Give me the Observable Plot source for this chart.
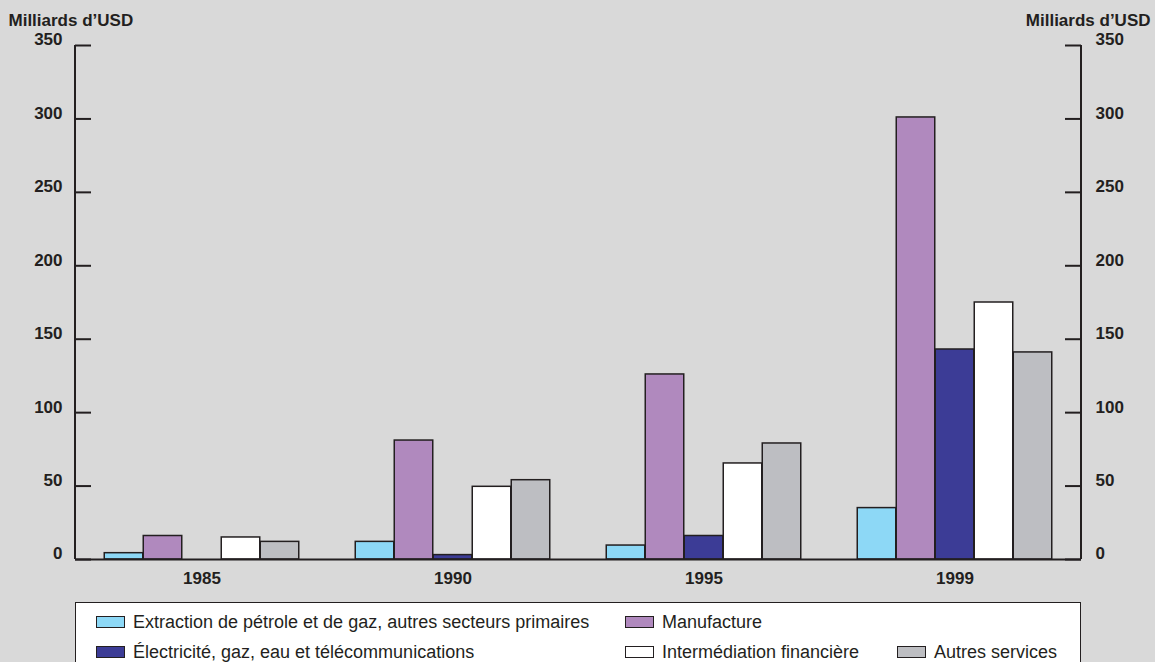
<!DOCTYPE html>
<html>
<head>
<meta charset="utf-8">
<script src="https://cdn.jsdelivr.net/npm/d3@7"></script>
<script src="https://cdn.jsdelivr.net/npm/@observablehq/plot@0.6"></script>
<style>
  html, body { margin: 0; padding: 0; background: #d9d9d9; }
  #wrap { position: relative; width: 1155px; height: 662px; overflow: hidden; font-family: "Liberation Sans", Arial, sans-serif; color: #231f20; }
  #chart { position: absolute; left: 0; top: 0; }
  #legend { position: absolute; left: 75px; top: 602px; width: 1004px; height: 90px; background: #fff; border: 1.5px solid #231f20; box-sizing: content-box; }
  .item { position: absolute; display: flex; align-items: center; font-size: 18px; white-space: nowrap; height: 18px; }
  .sw { width: 27px; height: 10px; border: 1px solid #231f20; margin-right: 8px; }
</style>
</head>
<body>
<div id="wrap">
  <div id="chart"></div>
  <div id="legend"></div>
</div>
<script>
// ---- data ----
const years = ["1985", "1990", "1995", "1999"];
const series = [
  "Extraction de pétrole et de gaz, autres secteurs primaires",
  "Manufacture",
  "Électricité, gaz, eau et télécommunications",
  "Intermédiation financière",
  "Autres services"
];
const extraction   = [4.3, 12, 9.5, 35];
const manufacture  = [16, 81, 126, 301];
const electricite  = [0, 3, 16, 143];
const intermediation = [15, 49.5, 65.4, 175];
const autres       = [12, 54, 79, 141];
const seriesValues = [extraction, manufacture, electricite, intermediation, autres];
const colors = ["#8dd8f6", "#b089be", "#3c3c96", "#ffffff", "#bdbec2"];
const yTicks = [0, 50, 100, 150, 200, 250, 300, 350];
const unitLabel = "Milliards d’USD";

// legend layout (left offsets within legend box, row)
const legendPos = [[20, 0], [549, 0], [20, 1], [549, 1], [821, 1]];

// ---- chart ----
const W = 1155, H = 600;
const mL = 75, mR = 74, mT = 45, mB = 41;
const barW = 39;
const bandW = (W - mL - mR) / years.length;
const inset = (bandW - barW) / 2;
const ink = "#231f20";

const rows = series.map((s, i) => years.map((y, j) => ({year: y, series: s, value: seriesValues[i][j]})));

const barMarks = rows.map((data, i) => Plot.barY(data, {
  x: "year", y: "value",
  fill: colors[i], stroke: ink, strokeWidth: 1.5,
  insetLeft: inset, insetRight: inset,
  dx: (i - 2) * barW
}));

const axisLines = (index, scales, values, dims) => {
  const g = d3.create("svg:g").attr("stroke", ink).attr("stroke-width", 2).attr("fill", "none");
  const x0 = dims.marginLeft, x1 = dims.width - dims.marginRight;
  const y0 = scales.y(0), y1 = scales.y(yTicks[yTicks.length - 1]);
  g.append("line").attr("x1", x0).attr("x2", x0).attr("y1", y0).attr("y2", y1);
  g.append("line").attr("x1", x1).attr("x2", x1).attr("y1", y0).attr("y2", y1);
  return g.node();
};

const chart = Plot.plot({
  width: W, height: H,
  marginLeft: mL, marginRight: mR, marginTop: mT, marginBottom: mB,
  style: {background: "transparent", fontFamily: "'Liberation Sans', Arial, sans-serif", fontSize: "17px", fontWeight: "bold", color: ink, overflow: "visible"},
  x: {domain: years, padding: 0, label: null},
  y: {domain: [0, 350], label: null},
  marks: [
    ...barMarks,
    Plot.ruleY([0], {stroke: ink, strokeWidth: 2}),
    axisLines,
    Plot.tickY(yTicks, {y: d => d, stroke: ink, strokeWidth: 2, insetRight: W - mL - mR - 16}),
    Plot.tickY(yTicks, {y: d => d, stroke: ink, strokeWidth: 2, insetLeft: W - mL - mR - 16}),
    Plot.axisY({anchor: "left", ticks: yTicks, tickSize: 0, tickPadding: 13, dy: -5.5, fontSize: 17, fontWeight: "bold", label: null}),
    Plot.axisY({anchor: "right", ticks: yTicks, tickSize: 0, tickPadding: 14, dy: -5.5, fontSize: 17, fontWeight: "bold", label: null}),
    Plot.axisX({tickSize: 0, tickPadding: 12, fontSize: 17, fontWeight: "bold", label: null}),
    Plot.text([unitLabel], {frameAnchor: "top-left", textAnchor: "start", lineAnchor: "bottom", dx: -67, dy: -20, fontSize: 17, fontWeight: "bold", fill: ink}),
    Plot.text([unitLabel], {frameAnchor: "top-right", textAnchor: "end", lineAnchor: "bottom", dx: 69, dy: -20, fontSize: 17, fontWeight: "bold", fill: ink})
  ]
});
document.getElementById("chart").appendChild(chart);

// ---- legend ----
const legend = document.getElementById("legend");
series.forEach((s, i) => {
  const [left, row] = legendPos[i];
  const item = document.createElement("div");
  item.className = "item";
  item.style.left = left + "px";
  item.style.top = (10 + row * 30) + "px";
  const sw = document.createElement("div");
  sw.className = "sw";
  sw.style.background = colors[i];
  const t = document.createElement("span");
  t.textContent = s;
  item.appendChild(sw);
  item.appendChild(t);
  legend.appendChild(item);
});
</script>
</body>
</html>
